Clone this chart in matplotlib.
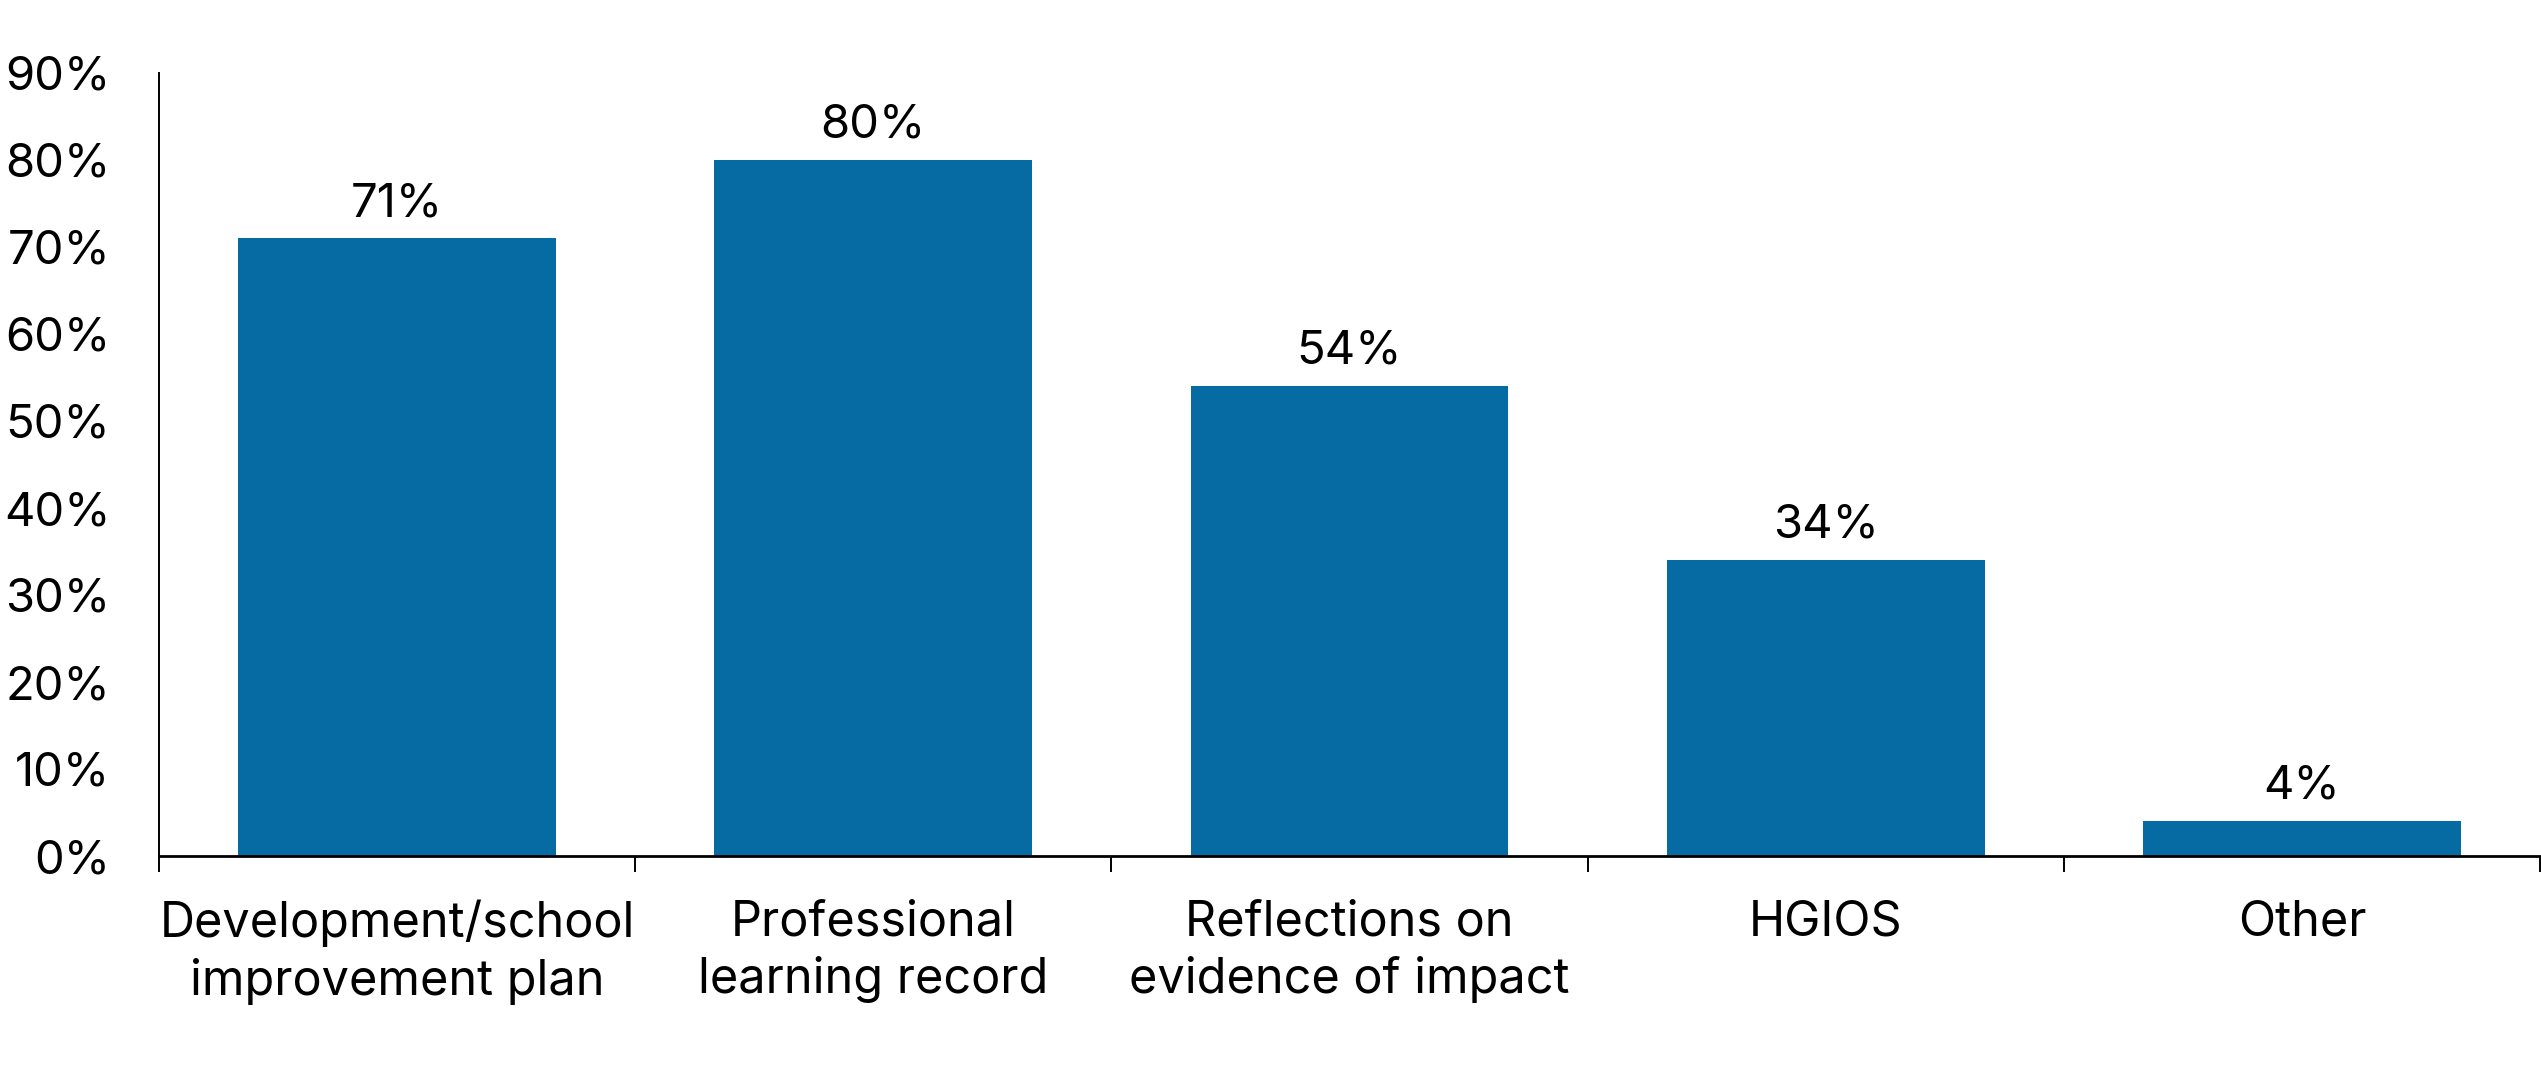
import matplotlib.pyplot as plt
import numpy as np

categories = ['Development/school\nimprovement plan', 'Professional\nlearning record',
              'Reflections on\nevidence of impact', 'HGIOS', 'Other']
values = [71, 80, 54, 34, 4]
yticks = [0, 10, 20, 30, 40, 50, 60, 70, 80, 90]

plt.rcParams['font.family'] = ['Inter', 'DejaVu Sans']

W, H = 2541, 1071
fig = plt.figure(figsize=(W / 100, H / 100), dpi=100)
ax = fig.add_axes([159 / W, (H - 856) / H, (2540 - 159) / W, (856 - 73) / H])

x = np.arange(len(categories))
bars = ax.bar(x, values, width=0.667, color='#066BA3')

for xi, v in zip(x, values):
    ax.annotate(f'{v}%', (xi, v), xytext=(0, 16), textcoords='offset points',
                ha='center', va='baseline', fontsize=34)

ax.set_xlim(-0.5, len(categories) - 0.5)
ax.set_ylim(0, 90)
ax.set_yticks(yticks)
ax.set_yticklabels([f'{t}%' for t in yticks], fontsize=34)
ax.tick_params(axis='y', length=0, pad=35)

ax.set_xticks(x)
ax.set_xticklabels(categories, fontsize=35, linespacing=1.3)
ax.tick_params(axis='x', which='major', length=0, pad=31)
ax.set_xticks(np.arange(-0.5, len(categories)), minor=True)
ax.tick_params(axis='x', which='minor', length=11.5, width=1.4, direction='out', color='black')

for s in ['top', 'right']:
    ax.spines[s].set_visible(False)
ax.spines['left'].set_linewidth(1.4)
ax.spines['bottom'].set_linewidth(2)

fig.savefig('out.png', dpi=100)
